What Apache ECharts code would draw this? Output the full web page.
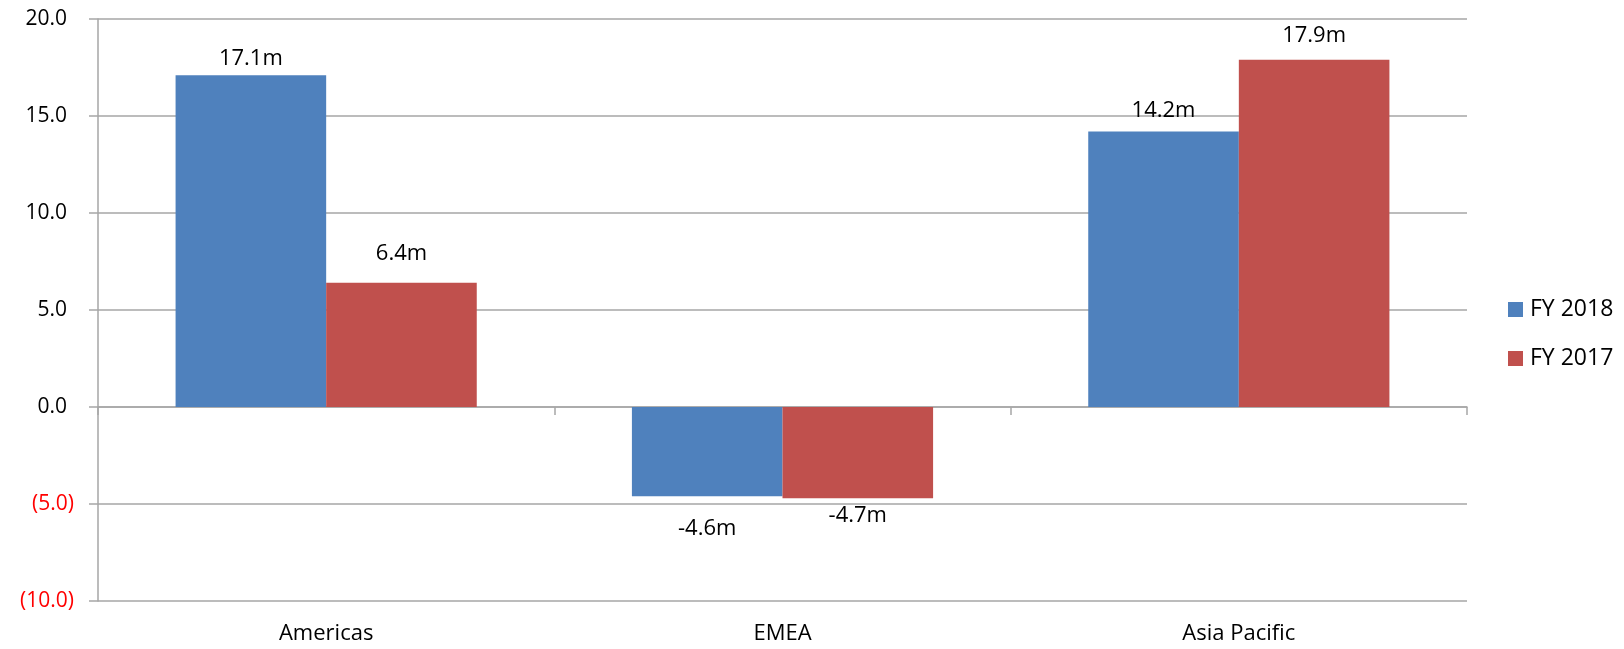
<!DOCTYPE html>
<html>
<head>
<meta charset="utf-8">
<script src="https://cdn.jsdelivr.net/npm/echarts@6/dist/echarts.min.js"></script>
<style>
  html, body { margin: 0; padding: 0; background: #ffffff; }
  #chart { width: 1624px; height: 649px; }
</style>
</head>
<body>
<div id="chart"></div>
<script>
// Regional result by fiscal year, in millions
const regions = ['Americas', 'EMEA', 'Asia Pacific'];
const seriesNames = ['FY 2018', 'FY 2017'];
const fy2018 = [17.1, -4.6, 14.2];
const fy2017 = [6.4, -4.7, 17.9];
const yTicks = { min: -10, max: 20, step: 5 };

// Gap between each value label and the end of its bar (px)
const labelGap2018 = [6, 21, 10];
const labelGap2017 = [18, 7, 13];

const FONT = 'Open Sans';
const GRID_GRAY = '#a6a6a6';
const colors = ['#4f81bd', '#c0504d'];

function barData(values, gaps) {
  return values.map((v, i) => ({
    value: v,
    label: { position: v >= 0 ? 'top' : 'bottom', distance: gaps[i] }
  }));
}

function fmtY(v) {
  const s = Math.abs(v).toFixed(1);
  return v < 0 ? '{neg|(' + s + ')}' : '{pos|' + s + '}';
}

const chart = echarts.init(document.getElementById('chart'), null, { renderer: 'canvas' });

chart.setOption({
  animation: false,
  textStyle: { fontFamily: FONT },
  grid: { left: 98, right: 157, top: 19, bottom: 48 },
  legend: {
    orient: 'vertical',
    left: 1503,
    top: 293,
    itemWidth: 15,
    itemHeight: 15,
    itemGap: 26,
    icon: 'rect',
    textStyle: { fontFamily: FONT, fontSize: 23, color: '#000000', padding: [0, 0, 0, 2] },
    data: seriesNames
  },
  xAxis: [
    {
      type: 'category',
      data: regions,
      position: 'bottom',
      axisLine: { show: false, onZero: false },
      axisTick: { show: false },
      axisLabel: { fontFamily: FONT, fontSize: 22, color: '#000000', margin: 22 }
    },
    {
      type: 'category',
      data: regions,
      position: 'bottom',
      axisLine: { show: true, onZero: true, lineStyle: { color: GRID_GRAY, width: 1.5 } },
      axisTick: { show: true, length: 8, lineStyle: { color: GRID_GRAY, width: 1.5 } },
      axisLabel: { show: false }
    }
  ],
  yAxis: {
    type: 'value',
    min: yTicks.min,
    max: yTicks.max,
    interval: yTicks.step,
    axisLine: { show: true, lineStyle: { color: GRID_GRAY, width: 1.5 } },
    axisTick: { show: true, length: 9, lineStyle: { color: GRID_GRAY, width: 1.5 } },
    splitLine: { show: true, lineStyle: { color: GRID_GRAY, width: 1.5 } },
    axisLabel: {
      margin: 24,
      formatter: fmtY,
      rich: {
        pos: { fontFamily: FONT, fontSize: 21, color: '#000000', padding: [0, 7, 0, 0] },
        neg: { fontFamily: FONT, fontSize: 21, color: '#ff0000' }
      }
    }
  },
  series: [
    {
      name: seriesNames[0],
      type: 'bar',
      xAxisIndex: 0,
      data: barData(fy2018, labelGap2018),
      itemStyle: { color: colors[0] },
      barGap: '0%',
      barCategoryGap: '34%',
      label: { show: true, fontFamily: FONT, fontSize: 22, color: '#000000', formatter: p => p.value.toFixed(1) + 'm' }
    },
    {
      name: seriesNames[1],
      type: 'bar',
      xAxisIndex: 0,
      data: barData(fy2017, labelGap2017),
      itemStyle: { color: colors[1] },
      barGap: '0%',
      barCategoryGap: '34%',
      label: { show: true, fontFamily: FONT, fontSize: 22, color: '#000000', formatter: p => p.value.toFixed(1) + 'm' }
    }
  ]
});
</script>
</body>
</html>
